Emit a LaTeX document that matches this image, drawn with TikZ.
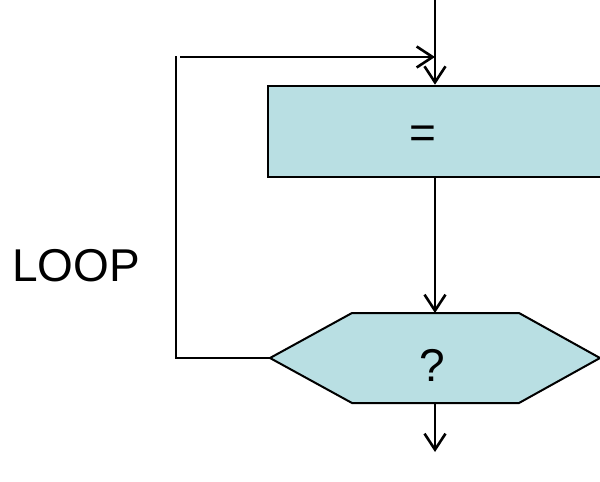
\documentclass[tikz,border=0pt]{standalone}
\usepackage{fontspec}
\setmainfont{Liberation Sans}
\usetikzlibrary{arrows.meta}
\definecolor{boxfill}{RGB}{185,223,227}
\begin{document}
\begin{tikzpicture}[x=1pt,y=-1pt,
  conn/.style={line width=2.6pt},
  arr/.style={conn,-{Straight Barb[length=16pt,width=21pt,line width=2.6pt]}},
  shapebox/.style={draw, line width=2.6pt, fill=boxfill, inner sep=0pt},
  lbl/.style={font=\fontsize{46}{50}\selectfont, inner sep=0pt}]
\useasboundingbox (0,0) rectangle (600,482);
\clip (0,0) rectangle (600,482);
% rectangle
\node[shapebox, minimum width=336pt, minimum height=91pt] (box) at (436,131.5) {};
\node[lbl] (eq) at (422.5,137.5) {=};
% hexagon
\coordinate (hL) at (270,358);
\coordinate (hTL) at (352,313);
\coordinate (hT) at (435,313);
\coordinate (hTR) at (519,313);
\coordinate (hR) at (600,358);
\coordinate (hBR) at (519,403);
\coordinate (hB) at (435,403);
\coordinate (hBL) at (352,403);
\draw[line width=2pt, fill=boxfill, line join=miter] (hL) -- (hTL) -- (hTR) -- (hR) -- (hBR) -- (hBL) -- cycle;
\node[lbl] (q) at (432.5,365) {?};
% label
\node[lbl] (loop) at (76,265.5) {LOOP};
% connectors
\coordinate (top) at (435,0);
\coordinate (bottom) at (435,452);
\coordinate (c1) at (176,358);
\coordinate (c2) at (176,56);
\coordinate (c3) at (180,57);
\coordinate (c4) at (435,57);
\draw[arr] (top) -- (box.north -| top);
\draw[arr] (box.south -| top) -- (hT);
\draw[arr] (hB) -- (bottom);
\draw[conn] (hL) -- (c1) -- (c2);
\draw[arr] (c3) -- (c4);
\end{tikzpicture}
\end{document}
